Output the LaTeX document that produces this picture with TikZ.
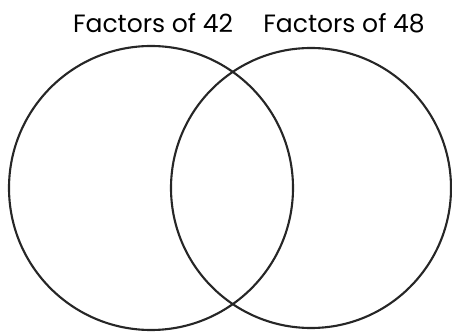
\documentclass[tikz,border=0pt]{standalone}
\usepackage{fontspec}
\setmainfont{Poppins}
\usepackage{tikz}
\usetikzlibrary{positioning}

\begin{document}
\begin{tikzpicture}[
  setcircle/.style={circle,draw=black!85,line width=1.5pt,inner sep=0pt},
  setlabel/.style={font=\fontsize{17.8}{20}\selectfont,inner sep=0pt}]
  \useasboundingbox (0,0) rectangle (11.3,8.375);
  % The two sets
  \node[setcircle,minimum size=7.1cm] (f42) at (3.775,3.675) {};
  \node[setcircle,minimum size=7.0cm] (f48) at (7.775,3.675) {};
  % Titles
  \node[setlabel] (t42) at (3.825,7.8) {Factors of 42};
  \node[setlabel] (t48) at (8.6,7.8) {Factors of 48};
\end{tikzpicture}
\end{document}
